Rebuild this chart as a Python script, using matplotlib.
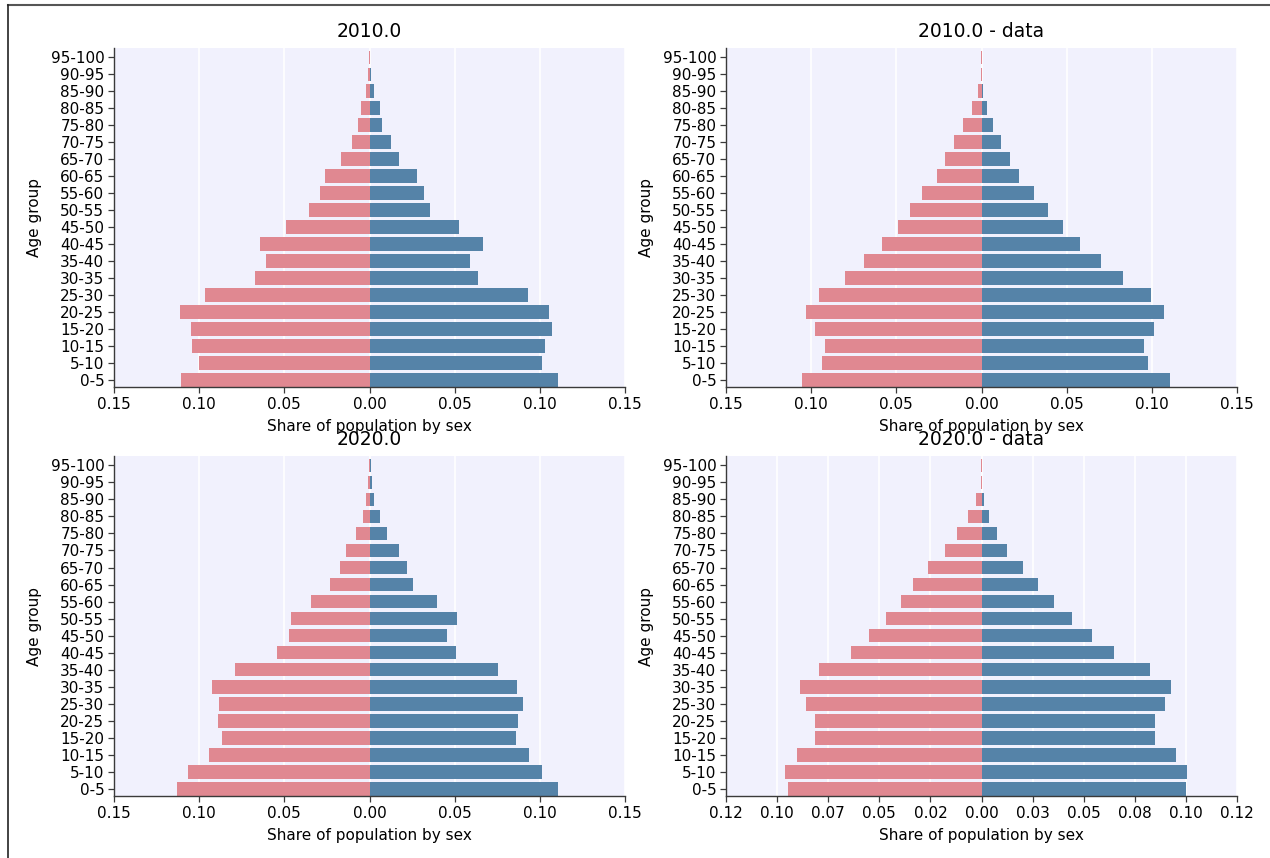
import matplotlib
matplotlib.use("Agg")
import matplotlib.pyplot as plt
from matplotlib.lines import Line2D

age_groups = ["0-5", "5-10", "10-15", "15-20", "20-25", "25-30", "30-35", "35-40",
              "40-45", "45-50", "50-55", "55-60", "60-65", "65-70", "70-75", "75-80",
              "80-85", "85-90", "90-95", "95-100"]

titles = ["2010.0", "2010.0 - data", "2020.0", "2020.0 - data"]

# values listed from 0-5 up to 95-100
female_2010 = [0.1105, 0.0999, 0.1040, 0.1046, 0.1111, 0.0963, 0.0675, 0.0610, 0.0641, 0.0493,
               0.0357, 0.0292, 0.0264, 0.0168, 0.0103, 0.0069, 0.0051, 0.0022, 0.0010, 0.0005]
male_2010 = [0.1109, 0.1014, 0.1032, 0.1072, 0.1056, 0.0933, 0.0639, 0.0590, 0.0667, 0.0525,
             0.0355, 0.0320, 0.0278, 0.0172, 0.0126, 0.0073, 0.0061, 0.0026, 0.0008, 0.0003]

female_2010_data = [0.1052, 0.0935, 0.0916, 0.0975, 0.1028, 0.0953, 0.0799, 0.0687, 0.0582, 0.0493,
                    0.0422, 0.0351, 0.0264, 0.0217, 0.0162, 0.0109, 0.0057, 0.0022, 0.0004, 0.0004]
male_2010_data = [0.1109, 0.0979, 0.0955, 0.1014, 0.1072, 0.0997, 0.0831, 0.0701, 0.0578, 0.0478,
                  0.0389, 0.0308, 0.0219, 0.0166, 0.0114, 0.0067, 0.0030, 0.0008, 0.0001, 0.0001]

female_2020 = [0.1129, 0.1068, 0.0945, 0.0864, 0.0892, 0.0882, 0.0922, 0.0787, 0.0545, 0.0474,
               0.0462, 0.0345, 0.0233, 0.0174, 0.0140, 0.0081, 0.0039, 0.0022, 0.0010, 0.0004]
male_2020 = [0.1109, 0.1014, 0.0939, 0.0862, 0.0874, 0.0902, 0.0868, 0.0756, 0.0509, 0.0456,
             0.0515, 0.0397, 0.0255, 0.0219, 0.0172, 0.0101, 0.0061, 0.0026, 0.0014, 0.0008]

female_2020_data = [0.0946, 0.0959, 0.0905, 0.0813, 0.0813, 0.0861, 0.0887, 0.0794, 0.0637, 0.0552,
                    0.0465, 0.0395, 0.0333, 0.0264, 0.0181, 0.0122, 0.0068, 0.0029, 0.0003, 0.0003]
male_2020_data = [0.1002, 0.1007, 0.0953, 0.0850, 0.0850, 0.0899, 0.0929, 0.0826, 0.0649, 0.0541,
                  0.0443, 0.0355, 0.0275, 0.0203, 0.0123, 0.0074, 0.0035, 0.0010, 0.0000, 0.0000]

xticks_a = [-0.15, -0.10, -0.05, 0.0, 0.05, 0.10, 0.15]
xticklabels_a = ["0.15", "0.10", "0.05", "0.00", "0.05", "0.10", "0.15"]
xticks_b = [-0.125, -0.10, -0.075, -0.05, -0.025, 0.0, 0.025, 0.05, 0.075, 0.10, 0.125]
xticklabels_b = ["0.12", "0.10", "0.07", "0.05", "0.02", "0.00", "0.03", "0.05", "0.08", "0.10", "0.12"]

females = [female_2010, female_2010_data, female_2020, female_2020_data]
males = [male_2010, male_2010_data, male_2020, male_2020_data]
ticks = [(xticks_a, xticklabels_a), (xticks_a, xticklabels_a),
         (xticks_a, xticklabels_a), (xticks_b, xticklabels_b)]

PINK = "#e08891"
BLUE = "#5583a8"
BG = "#f1f1fd"
SPINE = "#3a3a3a"

fig = plt.figure(figsize=(12.7, 8.58), dpi=100)
W, H = 1270, 858
boxes = [(114, 48, 625, 387), (726, 48, 1237, 387),
         (114, 456, 625, 796), (726, 456, 1237, 796)]

for i in range(4):
    x0, y0, x1, y1 = boxes[i]
    ax = fig.add_axes([x0 / W, 1 - y1 / H, (x1 - x0) / W, (y1 - y0) / H])
    ax.set_facecolor(BG)
    ax.set_axisbelow(True)
    ypos = list(range(len(age_groups)))
    ax.barh(ypos, [-v for v in females[i]], height=0.8, color=PINK, zorder=2)
    ax.barh(ypos, males[i], height=0.8, color=BLUE, zorder=2)
    tv, tl = ticks[i]
    ax.set_xticks(tv)
    ax.set_xticklabels(tl, fontsize=11)
    ax.set_xlim(tv[0], tv[-1])
    ax.set_yticks(ypos)
    ax.set_yticklabels(age_groups, fontsize=11)
    ax.set_ylim(-0.42, 19.55)
    ax.grid(axis="x", color="white", linewidth=1.2, zorder=0)
    ax.grid(axis="y", visible=False)
    for s in ["top", "right"]:
        ax.spines[s].set_visible(False)
    for s in ["left", "bottom"]:
        ax.spines[s].set_color(SPINE)
        ax.spines[s].set_linewidth(1.0)
    ax.tick_params(axis="both", colors=SPINE, labelcolor="black", length=4, width=0.9, pad=3)
    ax.set_title(titles[i], fontsize=13.5, pad=8)
    ax.set_xlabel("Share of population by sex", fontsize=11, labelpad=5)
    ax.set_ylabel("Age group", fontsize=11, labelpad=6)

# frame lines at top and left of the picture
fig.add_artist(Line2D([8 / W, 1.0], [1 - 5 / H, 1 - 5 / H], transform=fig.transFigure,
                      color="#555555", linewidth=1.5))
fig.add_artist(Line2D([8 / W, 8 / W], [1 - 5 / H, 0.0], transform=fig.transFigure,
                      color="#222222", linewidth=1.2))

fig.savefig("out.png", dpi=100, facecolor="white")
